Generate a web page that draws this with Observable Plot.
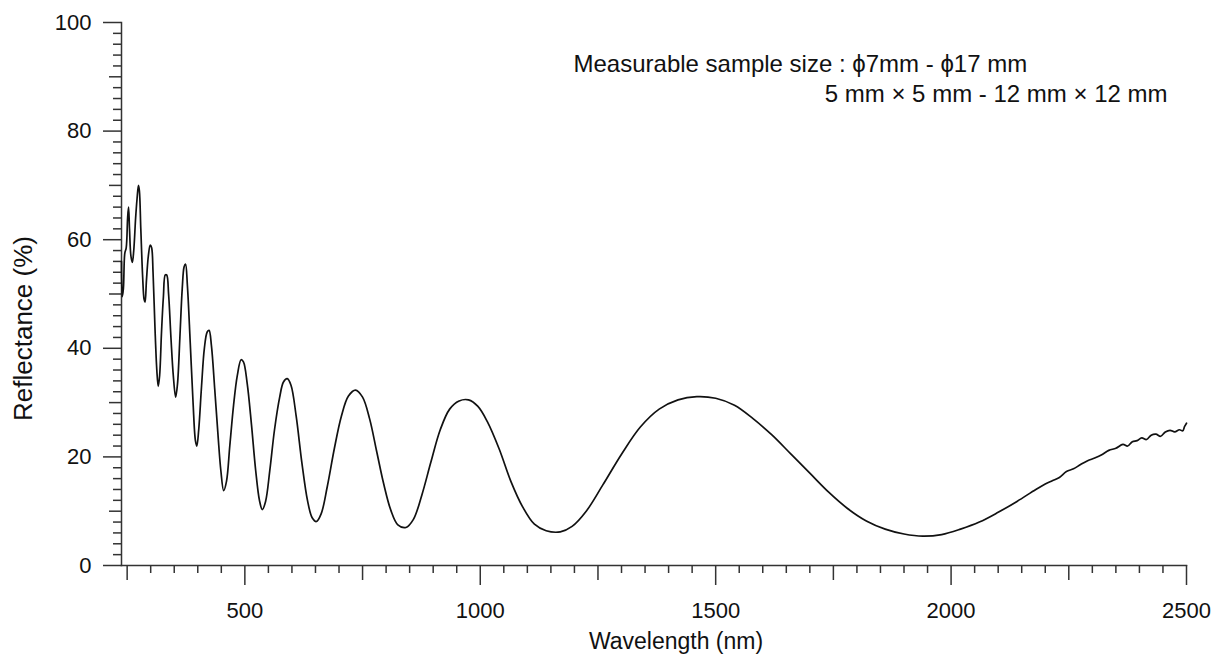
<!DOCTYPE html>
<html>
<head>
<meta charset="utf-8">
<script src="https://cdn.jsdelivr.net/npm/d3@7"></script>
<script src="https://cdn.jsdelivr.net/npm/@observablehq/plot@0.6"></script>
<style>
  html, body { margin: 0; padding: 0; background: #fff; }
  #chart { width: 1216px; height: 661px; }
</style>
</head>
<body>
<div id="chart"></div>
<script>
// Wavelength (nm) and reflectance (%)
const wavelength = [
  238, 239.5, 242, 245, 248, 251, 253, 255, 258, 261, 264, 268, 271, 274, 276, 279, 283, 286, 288, 291,
  295, 299, 302, 305, 309, 313, 316, 319, 323, 327, 331, 334, 338, 343, 348, 353, 357, 362, 367, 371,
  374, 378, 384, 390, 395, 398, 402, 408, 414, 420, 424, 429, 436, 443, 449, 455, 461, 468, 476, 484,
  492, 497, 505, 514, 523, 531, 537, 544, 553, 563, 574, 582, 590, 598, 609, 621, 633, 643, 652, 662,
  675, 690, 705, 720, 735, 750, 765, 780, 795, 810, 825, 842, 858, 876, 895, 915, 935, 955, 975, 995,
  1015, 1040, 1065, 1090, 1115, 1140, 1170, 1195, 1225, 1260, 1300, 1340, 1380, 1420, 1460, 1500, 1540, 1580, 1620, 1660,
  1700, 1740, 1780, 1820, 1860, 1900, 1940, 1980, 2020, 2060, 2100, 2140, 2180, 2200, 2215, 2230, 2245, 2260, 2275, 2290,
  2305, 2320, 2335, 2350, 2365, 2375, 2385, 2395, 2405, 2415, 2425, 2435, 2445, 2455, 2465, 2475, 2485, 2492, 2496, 2500
];
const reflectance = [
  56, 49.5, 51, 57.5, 58.5, 64, 66, 62, 57, 55.8, 58, 64, 67.5, 70, 69, 62, 53, 49, 48.5, 52.5,
  57, 59, 58.5, 54, 44, 36, 33, 35, 43, 49.5, 53.5, 53.5, 50, 42, 35, 31, 33.5, 42, 51, 55,
  55.5, 51.5, 41, 30, 23, 22, 25, 33, 40, 43, 43.3, 40.5, 32.5, 24, 17.5, 13.8, 15.5, 22, 29.5, 35,
  37.9, 37.5, 33.5, 26, 17.5, 12, 10.3, 11.8, 17.5, 25, 31, 33.8, 34.4, 33.2, 27.5, 19, 12, 8.8, 8.1, 9.5,
  14.5, 21.5, 27.5, 31.2, 32.3, 31, 27, 21, 15, 10.2, 7.5, 7.0, 8.5, 13, 19, 25, 28.8, 30.3, 30.5, 29.3,
  26.5, 21.5, 15.5, 10.8, 7.6, 6.4, 6.2, 7.2, 10, 14.8, 20.5, 25.5, 28.8, 30.5, 31.1, 30.8, 29.5, 27, 24, 20.5,
  17, 13.5, 10.5, 8.2, 6.7, 5.8, 5.4, 5.7, 6.7, 8, 9.8, 11.8, 14, 15.0, 15.6, 16.2, 17.3, 17.8, 18.6, 19.3,
  19.8, 20.4, 21.2, 21.6, 22.3, 22.0, 22.8, 23.0, 23.5, 23.2, 24.0, 24.2, 23.8, 24.6, 24.9, 24.6, 25.0, 24.8, 25.6, 26.2
];

const xMajorTicks = [500, 1000, 1500, 2000, 2500];
const xMediumTicks = [250, 750, 1250, 1750, 2250];
const xMinorTicks = d3.range(250, 2501, 50).filter(v => v % 250 !== 0);
const yMajorTicks = [0, 20, 40, 60, 80, 100];
const yMediumTicks = [10, 30, 50, 70, 90];
const yMinorTicks = d3.range(0, 101, 2).filter(v => v % 10 !== 0);

const xLabel = "Wavelength (nm)";
const yLabel = "Reflectance (%)";
const noteLine1 = "Measurable sample size : \u03D57mm - \u03D517 mm";
const noteLine2 = "5 mm \u00D7 5 mm - 12 mm \u00D7 12 mm";

const data = wavelength.map((w, i) => ({w, r: reflectance[i]}));
const axisColor = "#333";

const chart = Plot.plot({
  width: 1216,
  height: 661,
  marginLeft: 121,
  marginRight: 30,
  marginTop: 22,
  marginBottom: 96,
  style: {fontFamily: "'Liberation Sans', Arial, Helvetica, sans-serif", fontSize: "22px", color: "#111", background: "#fff"},
  x: {domain: [238, 2500]},
  y: {domain: [0, 100]},
  marks: [
    Plot.frame({anchor: "left", stroke: axisColor, strokeWidth: 1.5}),
    Plot.frame({anchor: "bottom", stroke: axisColor, strokeWidth: 1.5}),
    Plot.axisX(xMinorTicks, {tickSize: 8, fill: "none", label: null, stroke: axisColor, strokeWidth: 1.5}),
    Plot.axisX(xMediumTicks, {tickSize: 15, fill: "none", label: null, stroke: axisColor, strokeWidth: 1.5}),
    Plot.axisX(xMajorTicks, {tickSize: 20, tickPadding: 17, label: null, stroke: axisColor, strokeWidth: 1.5, fill: "#111", fontSize: 22, tickFormat: d => String(d)}),
    Plot.axisY(yMinorTicks, {tickSize: 8, fill: "none", label: null, stroke: axisColor, strokeWidth: 1.5}),
    Plot.axisY(yMediumTicks, {tickSize: 12, fill: "none", label: null, stroke: axisColor, strokeWidth: 1.5}),
    Plot.axisY(yMajorTicks, {tickSize: 18, tickPadding: 12, label: null, stroke: axisColor, strokeWidth: 1.5, fill: "#111", fontSize: 22, tickFormat: d => String(d)}),
    Plot.line(data, {x: "w", y: "r", stroke: "#111", strokeWidth: 1.7, curve: "catmull-rom"}),
    Plot.text([xLabel], {text: d => d, frameAnchor: "bottom", dx: 22, dy: 83, fontSize: 23, fill: "#111"}),
    Plot.text([yLabel], {text: d => d, frameAnchor: "left", rotate: -90, dx: -98, dy: 127, fontSize: 26, fill: "#111"}),
    Plot.text([noteLine1], {text: d => d, frameAnchor: "top-left", textAnchor: "start", dx: 452, dy: 32, fontSize: 24, fill: "#111"}),
    Plot.text([noteLine2], {text: d => d, frameAnchor: "top-right", textAnchor: "end", dx: -19, dy: 62, fontSize: 24, fill: "#111"})
  ]
});
document.getElementById("chart").appendChild(chart);
</script>
</body>
</html>
